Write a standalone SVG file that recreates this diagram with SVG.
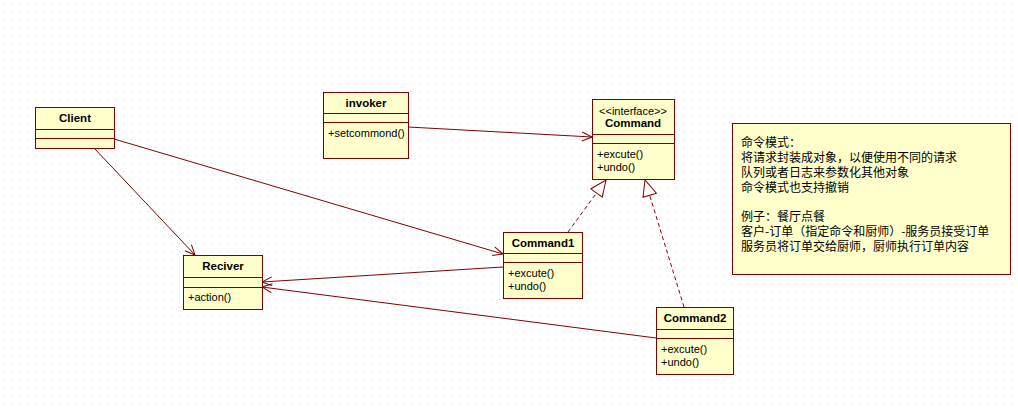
<svg xmlns="http://www.w3.org/2000/svg" width="1018" height="410" viewBox="0 0 1018 410">
<style>
.box{fill:#FFFFCC;stroke:#800000;stroke-width:1}
.div{stroke:#800000;stroke-width:1}
.name{font-family:"Liberation Sans",Arial,sans-serif;font-size:11.5px;font-weight:bold;fill:#000;text-anchor:middle}
.st{font-family:"Liberation Sans",Arial,sans-serif;font-size:11px;fill:#000;text-anchor:middle}
.mem{font-family:"Liberation Sans",Arial,sans-serif;font-size:11px;fill:#000}
.note{font-family:"Noto Sans CJK SC",sans-serif;font-size:12px;fill:#000}
.conn{stroke:#800000;stroke-width:1;fill:none}
.dash{stroke-dasharray:4 3}
</style>
<defs>
<pattern id="grid" width="8" height="8" patternUnits="userSpaceOnUse">
<rect x="3" y="3" width="1" height="1" fill="#d4d4d4"/>
</pattern>
<marker id="open" markerUnits="userSpaceOnUse" markerWidth="12" markerHeight="12" refX="11" refY="5" orient="auto">
<path d="M1,0.5 L11,5 L1,9.5" fill="none" stroke="#800000" stroke-width="1"/>
</marker>
<marker id="tri" markerUnits="userSpaceOnUse" markerWidth="20" markerHeight="18" refX="17" refY="8" orient="auto">
<path d="M1,1 L17,8 L1,15 Z" fill="#fff" stroke="#800000" stroke-width="1"/>
</marker>
</defs>
<rect width="1018" height="410" fill="#fff"/>
<rect width="1018" height="410" fill="url(#grid)"/>

<g id="connectors">
<line class="conn" x1="408" y1="127" x2="592" y2="137" marker-end="url(#open)"/>
<line class="conn" x1="114" y1="139" x2="503" y2="254" marker-end="url(#open)"/>
<line class="conn" x1="94" y1="148" x2="195" y2="255" marker-end="url(#open)"/>
<line class="conn" x1="503" y1="267" x2="262" y2="282" marker-end="url(#open)"/>
<line class="conn" x1="656" y1="338" x2="262" y2="287" marker-end="url(#open)"/>
<line class="conn dash" x1="568" y1="232" x2="606" y2="180" marker-end="url(#tri)"/>
<line class="conn dash" x1="684" y1="307" x2="645" y2="180" marker-end="url(#tri)"/>
</g>

<g id="client">
<rect class="box" x="35.5" y="107.5" width="79" height="41"/>
<line class="div" x1="35.5" y1="129.5" x2="114.5" y2="129.5"/>
<line class="div" x1="35.5" y1="138.5" x2="114.5" y2="138.5"/>
<text class="name" x="75" y="122">Client</text>
</g>

<g id="invoker">
<rect class="box" x="323.5" y="92.5" width="85" height="66"/>
<line class="div" x1="323.5" y1="113.5" x2="408.5" y2="113.5"/>
<line class="div" x1="323.5" y1="122.5" x2="408.5" y2="122.5"/>
<text class="name" x="366" y="107">invoker</text>
<text class="mem" x="328" y="137">+setcommond()</text>
</g>

<g id="command">
<rect class="box" x="592.5" y="99.5" width="82" height="80"/>
<line class="div" x1="592.5" y1="134.5" x2="674.5" y2="134.5"/>
<line class="div" x1="592.5" y1="143.5" x2="674.5" y2="143.5"/>
<text class="st" x="633" y="115">&lt;&lt;interface&gt;&gt;</text>
<text class="name" x="633" y="127">Command</text>
<text class="mem" x="597" y="158">+excute()</text>
<text class="mem" x="597" y="171">+undo()</text>
</g>

<g id="reciver">
<rect class="box" x="183.5" y="255.5" width="79" height="54"/>
<line class="div" x1="183.5" y1="277.5" x2="262.5" y2="277.5"/>
<line class="div" x1="183.5" y1="287.5" x2="262.5" y2="287.5"/>
<text class="name" x="223" y="270">Reciver</text>
<text class="mem" x="188" y="301">+action()</text>
</g>

<g id="command1">
<rect class="box" x="503.5" y="232.5" width="79" height="66"/>
<line class="div" x1="503.5" y1="253.5" x2="582.5" y2="253.5"/>
<line class="div" x1="503.5" y1="262.5" x2="582.5" y2="262.5"/>
<text class="name" x="543" y="247">Command1</text>
<text class="mem" x="508" y="277">+excute()</text>
<text class="mem" x="508" y="290">+undo()</text>
</g>

<g id="command2">
<rect class="box" x="656.5" y="307.5" width="77" height="67"/>
<line class="div" x1="656.5" y1="329.5" x2="733.5" y2="329.5"/>
<line class="div" x1="656.5" y1="338.5" x2="733.5" y2="338.5"/>
<text class="name" x="695" y="322">Command2</text>
<text class="mem" x="661" y="353">+excute()</text>
<text class="mem" x="661" y="366">+undo()</text>
</g>

<g id="note">
<rect class="box" x="732.5" y="123.5" width="278" height="151"/>
<text class="note" x="741" y="147">命令模式：</text>
<text class="note" x="741" y="162">将请求封装成对象，以便使用不同的请求</text>
<text class="note" x="741" y="177">队列或者日志来参数化其他对象</text>
<text class="note" x="741" y="192">命令模式也支持撤销</text>
<text class="note" x="741" y="221">例子：餐厅点餐</text>
<text class="note" x="741" y="236">客户-订单（指定命令和厨师）-服务员接受订单</text>
<text class="note" x="741" y="251">服务员将订单交给厨师，厨师执行订单内容</text>
</g>
</svg>
